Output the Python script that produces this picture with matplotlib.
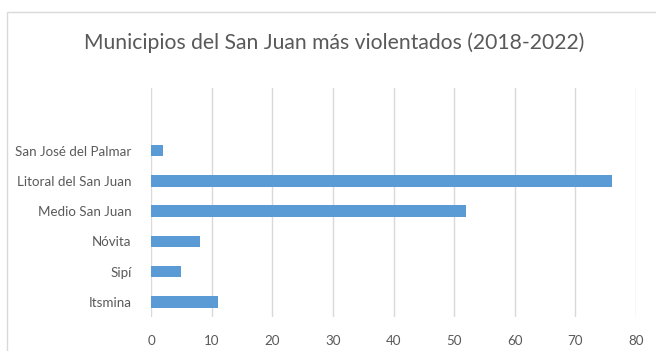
import matplotlib.pyplot as plt
from matplotlib.patches import Rectangle

# data (bottom to top, as drawn)
municipios = ['Itsmina', 'Sipí', 'Nóvita', 'Medio San Juan', 'Litoral del San Juan', 'San José del Palmar']
casos = [11, 5, 8, 52, 76, 2]
x_ticks = [0, 10, 20, 30, 40, 50, 60, 70, 80]

plt.rcParams['font.family'] = ['Lato', 'DejaVu Sans']
text_color = '#595959'
bar_color = '#5b9bd5'

fig = plt.figure(figsize=(6.56, 3.51), dpi=100)

# light chart border like the Excel chart area
fig.patches.append(Rectangle((7 / 656, -0.1), 1.1, 1.1 - 12 / 351,
                             transform=fig.transFigure, fill=False,
                             edgecolor='#d9d9d9', linewidth=1.0))

ax = fig.add_axes([151 / 656, 1 - 317 / 351, (636 - 151) / 656, (317 - 88) / 351])
pos = list(range(len(municipios)))
ax.barh(pos, casos, height=0.38, color=bar_color, zorder=3)

ax.set_xlim(0, 80)
ax.set_ylim(-0.5, 7.07)
ax.set_xticks(x_ticks)
ax.set_yticks(pos)
ax.set_yticklabels(municipios)
ax.tick_params(length=0, labelsize=9.6, colors=text_color)
ax.tick_params(axis='x', pad=13)
ax.tick_params(axis='y', pad=14)
ax.grid(axis='x', color='#d9d9d9', linewidth=1.0, zorder=0)
for s in ax.spines.values():
    s.set_visible(False)

fig.text(334 / 656, 1 - 43 / 351, 'Municipios del San Juan más violentados (2018-2022)',
         ha='center', va='center', fontsize=15.2, color=text_color)

fig.savefig('out.png', dpi=100)
